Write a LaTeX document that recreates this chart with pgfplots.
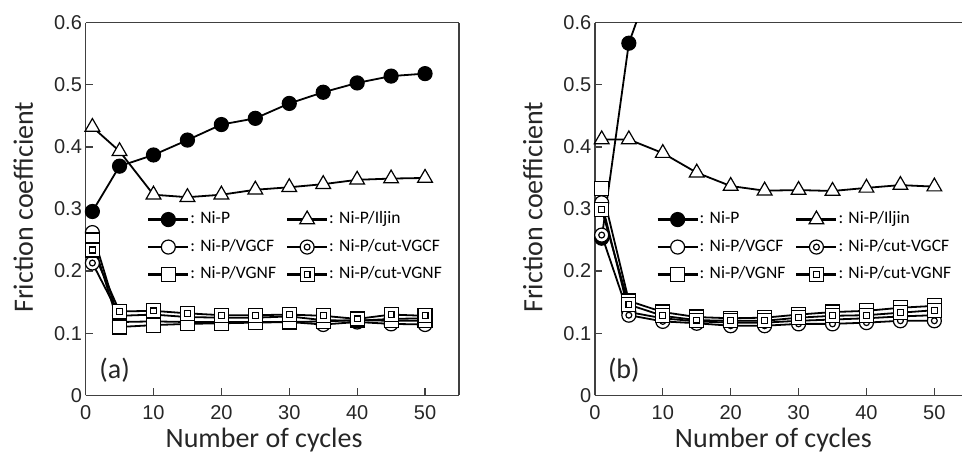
\documentclass[border=0pt]{standalone}
\usepackage{fontspec}
\setmainfont{Carlito}
\newfontfamily\arialf{Liberation Sans}
\usepackage{pgfplots}
\pgfplotsset{compat=1.18}

% circle / square with a smaller one inside
\pgfdeclareplotmark{dcircle}{%
  \pgfpathcircle{\pgfpointorigin}{\pgfplotmarksize}\pgfusepathqfillstroke
  \pgfpathcircle{\pgfpointorigin}{0.42\pgfplotmarksize}\pgfusepathqstroke}
\pgfdeclareplotmark{dsquare}{%
  \pgfpathrectangle{\pgfpoint{-\pgfplotmarksize}{-\pgfplotmarksize}}{\pgfpoint{2\pgfplotmarksize}{2\pgfplotmarksize}}\pgfusepathqfillstroke
  \pgfpathrectangle{\pgfpoint{-0.42\pgfplotmarksize}{-0.42\pgfplotmarksize}}{\pgfpoint{0.84\pgfplotmarksize}{0.84\pgfplotmarksize}}\pgfusepathqstroke}

\pgfplotsset{
  fc/.style={
    scale only axis, width=373.4pt, height=372.6pt,
    xmin=0, xmax=55, ymin=0, ymax=0.6,
    xtick={0,10,20,30,40,50},
    ytick={0,0.1,0.2,0.3,0.4,0.5,0.6},
    yticklabels={0,0.1,0.2,0.3,0.4,0.5,0.6},
    xtick pos=bottom, ytick pos=left, tick align=inside,
    major tick length=7pt,
    separate axis lines,
    axis line style={black!75, line width=1.3pt},
    major tick style={black!75, line width=1.3pt},
    /pgf/number format/assume math mode=true,
    tick label style={font=\arialf\fontsize{20}{24}\selectfont, text=black!85, inner sep=0pt},
    yticklabel style={xshift=-3.5pt},
    xticklabel style={yshift=-9.7pt},
    xlabel={Number of cycles},
    ylabel={Friction coefficient},
    label style={font=\fontsize{28}{32}\selectfont, text=black!85},
    xlabel style={at={(axis description cs:0.478,-0.139)}, anchor=base},
    ylabel style={at={(axis description cs:-0.1409,0.505)}, anchor=base},
    legend columns=2,
    legend cell align=left,
    legend style={draw=none, fill=none, at={(axis cs:9.05,0.297)}, anchor=north west,
      font=\fontsize{17.5}{20}\selectfont, inner sep=0pt, row sep=11.5pt,
      nodes={inner xsep=1pt, inner ysep=0pt, text height=12pt, text depth=4pt},
      /tikz/every even column/.append style={column sep=9pt}},
    legend image code/.code={\draw[mark repeat=2,mark phase=2,##1,line width=2.2pt] plot coordinates {(0pt,0pt) (20pt,0pt) (40pt,0pt)};},
    every axis plot/.append style={black, line width=1.8pt},
  },
  nip/.style={mark=*, mark size=7pt, mark options={solid, fill=black, line width=1.2pt}},
  ilj/.style={mark=triangle*, mark size=8.5pt, mark options={solid, fill=white, line width=1.2pt}},
  vgcf/.style={mark=*, mark size=7pt, mark options={solid, fill=white, line width=1.2pt}},
  cvgcf/.style={mark=dcircle, mark size=7pt, mark options={solid, fill=white, line width=1.2pt}},
  vgnf/.style={mark=square*, mark size=7pt, mark options={solid, fill=white, line width=1.2pt}},
  cvgnf/.style={mark=dsquare, mark size=7pt, mark options={solid, fill=white, line width=1.2pt}},
}

\begin{document}
\begin{tikzpicture}[x=1pt,y=1pt]
\path[use as bounding box, clip] (0pt,0pt) rectangle (962pt,455pt);

% (a)
\begin{axis}[fc, at={(85.6pt,59.7pt)}, anchor=south west]
\addplot[nip] coordinates {(1,0.296)(5,0.369)(10,0.387)(15,0.411)(20,0.436)(25,0.446)(30,0.470)(35,0.488)(40,0.503)(45,0.514)(50,0.518)};
\addlegendentry{: Ni-P}
\addplot[ilj] coordinates {(1,0.432)(5,0.393)(10,0.323)(15,0.319)(20,0.323)(25,0.331)(30,0.335)(35,0.340)(40,0.347)(45,0.349)(50,0.350)};
\addlegendentry{: Ni-P/Iljin}
\addplot[vgcf] coordinates {(1,0.262)(5,0.118)(10,0.119)(15,0.118)(20,0.118)(25,0.118)(30,0.118)(35,0.114)(40,0.118)(45,0.115)(50,0.114)};
\addlegendentry{: Ni-P/VGCF}
\addplot[cvgcf] coordinates {(1,0.213)(5,0.128)(10,0.130)(15,0.126)(20,0.125)(25,0.125)(30,0.127)(35,0.121)(40,0.120)(45,0.123)(50,0.124)};
\addlegendentry{: Ni-P/cut-VGCF}
\addplot[vgnf] coordinates {(1,0.250)(5,0.110)(10,0.113)(15,0.115)(20,0.116)(25,0.117)(30,0.118)(35,0.119)(40,0.121)(45,0.120)(50,0.120)};
\addlegendentry{: Ni-P/VGNF}
\addplot[cvgnf] coordinates {(1,0.234)(5,0.135)(10,0.136)(15,0.132)(20,0.129)(25,0.129)(30,0.130)(35,0.128)(40,0.123)(45,0.130)(50,0.128)};
\addlegendentry{: Ni-P/cut-VGNF}
\node[anchor=west, inner sep=0pt, font=\fontsize{28}{32}\selectfont, text=black!85] at (axis cs:2,0.041) {(a)};
\end{axis}

% (b)
\begin{axis}[fc, at={(594.9pt,59.7pt)}, anchor=south west]
\addplot[nip] coordinates {(1,0.253)(5,0.567)(10,0.72)};
\addlegendentry{: Ni-P}
\addplot[ilj] coordinates {(1,0.412)(5,0.412)(10,0.390)(15,0.3585)(20,0.337)(25,0.3295)(30,0.3305)(35,0.329)(40,0.334)(45,0.3385)(50,0.336)};
\addlegendentry{: Ni-P/Iljin}
\addplot[vgcf] coordinates {(1,0.310)(5,0.134)(10,0.124)(15,0.119)(20,0.117)(25,0.117)(30,0.120)(35,0.122)(40,0.124)(45,0.127)(50,0.129)};
\addlegendentry{: Ni-P/VGCF}
\addplot[cvgcf] coordinates {(1,0.258)(5,0.129)(10,0.119)(15,0.116)(20,0.112)(25,0.112)(30,0.115)(35,0.115)(40,0.117)(45,0.120)(50,0.120)};
\addlegendentry{: Ni-P/cut-VGCF}
\addplot[vgnf] coordinates {(1,0.333)(5,0.152)(10,0.134)(15,0.126)(20,0.124)(25,0.125)(30,0.130)(35,0.134)(40,0.136)(45,0.141)(50,0.144)};
\addlegendentry{: Ni-P/VGNF}
\addplot[cvgnf] coordinates {(1,0.2995)(5,0.146)(10,0.128)(15,0.121)(20,0.120)(25,0.120)(30,0.125)(35,0.128)(40,0.129)(45,0.133)(50,0.137)};
\addlegendentry{: Ni-P/cut-VGNF}
\node[anchor=west, inner sep=0pt, font=\fontsize{28}{32}\selectfont, text=black!85] at (axis cs:1.9,0.041) {(b)};
\end{axis}
\end{tikzpicture}
\end{document}
